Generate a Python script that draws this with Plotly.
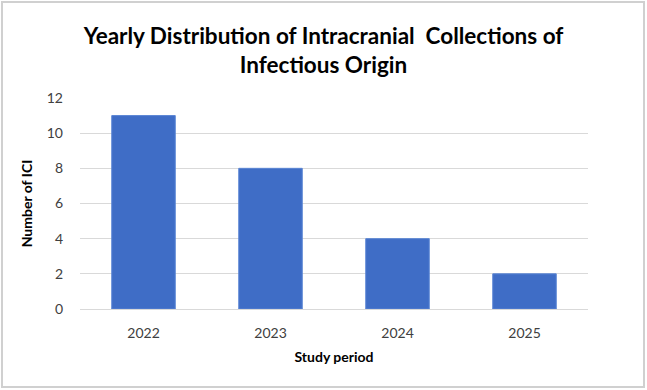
import plotly.graph_objects as go

years = ["2022", "2023", "2024", "2025"]
counts = [11, 8, 4, 2]
y_ticks = [0, 2, 4, 6, 8, 10, 12]

W, H = 647, 390
L, R, T, B = 80, 59, 98, 81
pw, ph = W - L - R, H - T - B

fig = go.Figure(go.Bar(
    x=years, y=counts,
    marker=dict(color="#3F6DC6", line=dict(color="#5A85D4", width=1)),
    hoverinfo="x+y",
))

def px(xp):
    return (xp - L) / pw

def py(yp):
    return (H - B - yp) / ph

fig.update_layout(
    width=W, height=H,
    margin=dict(l=L, r=R, t=T, b=B),
    paper_bgcolor="white", plot_bgcolor="white",
    bargap=0.5,
    showlegend=False,
    title=dict(
        text="Yearly Distribution of Intracranial  Collections of<br>Infectious Origin",
        x=0.5, xanchor="center", y=1 - 44 / H, yanchor="middle",
        font=dict(family="Lato", size=22.5, color="#000000", weight="bold"),
    ),
    font=dict(family="Lato", color="#595959", size=14),
    xaxis=dict(
        showgrid=False, showline=True, linecolor="#D9D9D9", linewidth=1,
        ticks="", tickfont=dict(size=14, color="#404040"), ticklabelstandoff=11,
        title=dict(text="<b>Study period</b>", font=dict(size=14, color="#000000"), standoff=12),
    ),
    yaxis=dict(
        range=[0, 12], tickvals=y_ticks, showgrid=True, gridcolor="#D9D9D9", gridwidth=1,
        zeroline=False, showline=False, ticks="", ticklen=0,
        tickfont=dict(size=14, color="#404040"), ticklabelstandoff=16,
        title=dict(text="<b>Number of ICI</b>", font=dict(size=14, color="#000000"), standoff=10),
    ),
    shapes=[dict(
        type="rect", xref="paper", yref="paper",
        x0=px(2), x1=px(644), y0=py(387), y1=py(2),
        line=dict(color="#D0D0D0", width=2), fillcolor="rgba(0,0,0,0)", layer="below",
    )],
)

fig.write_html("out.html")
